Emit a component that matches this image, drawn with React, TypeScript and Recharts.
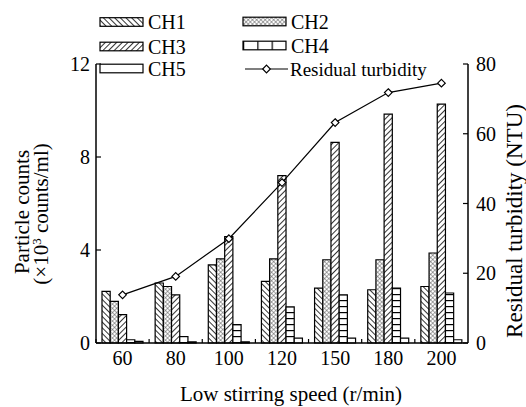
import { ComposedChart, Bar, Line, XAxis, YAxis } from "recharts";

const speeds = ["60", "80", "100", "120", "150", "180", "200"];
const ch1 = [2.22, 2.58, 3.36, 2.65, 2.36, 2.29, 2.43];
const ch2 = [1.79, 2.43, 3.62, 3.62, 3.58, 3.58, 3.87];
const ch3 = [1.22, 2.07, 4.58, 7.2, 8.63, 9.84, 10.27];
const ch4 = [0.14, 0.28, 0.79, 1.55, 2.07, 2.36, 2.15];
const ch5 = [0.07, 0.05, 0.05, 0.21, 0.21, 0.21, 0.14];
const turbidity = [13.8, 19.1, 29.9, 46.0, 63.2, 71.8, 74.5];
const leftTicks = [0, 4, 8, 12];
const rightTicks = [0, 20, 40, 60, 80];

const data = speeds.map((s, i) => ({
  speed: s,
  ch1: ch1[i],
  ch2: ch2[i],
  ch3: ch3[i],
  ch4: ch4[i],
  ch5: ch5[i],
  turb: turbidity[i],
}));

const FONT = "'Liberation Serif', 'Times New Roman', serif";
const FS = 20;

const fills: Record<string, string> = {
  ch1: "url(#pBack)",
  ch2: "url(#pCross)",
  ch3: "url(#pFwd)",
  ch4: "url(#pBrick)",
  ch5: "#fff",
};
const legendFills: Record<string, string> = {
  ch1: "url(#lBack)",
  ch2: "url(#lCross)",
  ch3: "url(#lFwd)",
  ch4: "url(#lBrickV)",
  ch5: "#fff",
};

// diamond marker for the turbidity line
const Diamond = (props: any) => {
  const { cx, cy } = props;
  if (cx == null || cy == null) return null;
  const r = 3.8;
  return (
    <path
      d={`M${cx},${cy - r}L${cx + r},${cy}L${cx},${cy + r}L${cx - r},${cy}Z`}
      fill="#fff"
      stroke="#000"
      strokeWidth={1.2}
    />
  );
};

// labels at category centres, small inward ticks at the category boundaries
const XTick = (props: any) => {
  const { x, y, payload } = props;
  const half = 26.6;
  const axisY = y - 8;
  return (
    <g>
      <line x1={x - half} x2={x - half} y1={axisY} y2={axisY - 4} stroke="#000" strokeWidth={1.2} />
      <text x={x} y={y} dy="0.71em" textAnchor="middle" fontFamily={FONT} fontSize={FS} fill="#000">
        {payload.value}
      </text>
    </g>
  );
};

const Patterns = ({ prefix }: { prefix: string }) => (
  <defs>
    <pattern id={prefix + "Back"} width="4" height="4" patternUnits="userSpaceOnUse" patternTransform="rotate(-45)">
      <rect width="4" height="4" fill="#fff" />
      <line x1="0" y1="0" x2="0" y2="4" stroke="#000" strokeWidth="1.6" />
    </pattern>
    <pattern id={prefix + "Fwd"} width="4" height="4" patternUnits="userSpaceOnUse" patternTransform="rotate(45)">
      <rect width="4" height="4" fill="#fff" />
      <line x1="0" y1="0" x2="0" y2="4" stroke="#000" strokeWidth="1.6" />
    </pattern>
    <pattern id={prefix + "Cross"} width="3" height="3" patternUnits="userSpaceOnUse" patternTransform="rotate(45)">
      <rect width="3" height="3" fill="#fff" />
      <line x1="0" y1="0" x2="0" y2="3" stroke="#555" strokeWidth="1" />
      <line x1="0" y1="0" x2="3" y2="0" stroke="#555" strokeWidth="1" />
    </pattern>
    <pattern id={prefix + "Brick"} width="8" height="6" patternUnits="userSpaceOnUse">
      <rect width="8" height="6" fill="#fff" />
      <line x1="0" y1="0.5" x2="8" y2="0.5" stroke="#000" strokeWidth="1.4" />
    </pattern>
    <pattern id={prefix + "BrickV"} width="14.3" height="8" patternUnits="userSpaceOnUse" x="100">
      <rect width="14.3" height="8" fill="#fff" />
      <line x1="0.5" y1="0" x2="0.5" y2="8" stroke="#000" strokeWidth="1.4" />
    </pattern>
  </defs>
);

const LegendBox = () => {
  const rows = [
    { key: "ch1", label: "CH1", x: 100, y: 22 },
    { key: "ch2", label: "CH2", x: 243, y: 21.5 },
    { key: "ch3", label: "CH3", x: 100, y: 46.5 },
    { key: "ch4", label: "CH4", x: 243, y: 45.5 },
    { key: "ch5", label: "CH5", x: 100, y: 68.5 },
  ];
  return (
    <svg width={526} height={80} style={{ position: "absolute", left: 0, top: 0, overflow: "visible" }}>
      <Patterns prefix="l" />
      {rows.map((r) => (
        <g key={r.key}>
          <rect x={r.x} y={r.y - 4.3} width={43} height={8.6} fill={legendFills[r.key]} stroke="#000" strokeWidth={1.2} />
          <text x={r.x + 48} y={r.y + 7} fontFamily={FONT} fontSize={FS} fill="#000">
            {r.label}
          </text>
        </g>
      ))}
      <line x1={245} x2={288} y1={69} y2={69} stroke="#000" strokeWidth={1.2} />
      <Diamond cx={266.5} cy={69} />
      <text x={290} y={76} fontFamily={FONT} fontSize={19} fill="#000">
        Residual turbidity
      </text>
    </svg>
  );
};

export default function App() {
  return (
    <div style={{ width: 526, height: 407, position: "relative", background: "#fff" }}>
      <style>{"body{margin:0}"}</style>
      <ComposedChart
        width={526}
        height={407}
        data={data}
        margin={{ top: 64, right: 0, left: 0, bottom: 0 }}
        barGap={0}
        barCategoryGap={6}
      >
        <Patterns prefix="p" />
        <XAxis
          dataKey="speed"
          height={64}
          axisLine={{ stroke: "#000", strokeWidth: 1.5 }}
          tickLine={false}
          tickSize={-5}
          tickMargin={13}
          tick={<XTick />}
          interval={0}
          label={() => (
            <text x={291} y={401} textAnchor="middle" fontFamily={FONT} fontSize={21} fill="#000">
              Low stirring speed (r/min)
            </text>
          )}
        />
        <YAxis
          yAxisId="left"
          width={96}
          domain={[0, 12]}
          ticks={leftTicks}
          interval={0}
          axisLine={{ stroke: "#000", strokeWidth: 1.5 }}
          tickLine={{ stroke: "#000", strokeWidth: 1.2 }}
          tickSize={-5}
          tickMargin={11}
          tick={{ fontFamily: FONT, fontSize: FS, fill: "#000" }}
          label={() => (
            <g>
              <text
                transform="translate(29,212) rotate(-90)"
                textAnchor="middle"
                fontFamily={FONT}
                fontSize={21}
                fill="#000"
              >
                Particle counts
              </text>
              <text
                transform="translate(48,214) rotate(-90)"
                textAnchor="middle"
                fontFamily={FONT}
                fontSize={21}
                fill="#000"
              >
                (×10
                <tspan dy={-7} fontSize={13}>
                  3
                </tspan>
                <tspan dy={7}> counts/ml)</tspan>
              </text>
            </g>
          )}
        />
        <YAxis
          yAxisId="right"
          orientation="right"
          width={58}
          domain={[0, 80]}
          ticks={rightTicks}
          interval={0}
          axisLine={{ stroke: "#000", strokeWidth: 1.5 }}
          tickLine={{ stroke: "#000", strokeWidth: 1.2 }}
          tickSize={-5}
          tickMargin={13}
          tick={{ fontFamily: FONT, fontSize: FS, fill: "#000" }}
          label={() => (
            <text
              transform="translate(522,221) rotate(-90)"
              textAnchor="middle"
              fontFamily={FONT}
              fontSize={23}
              fill="#000"
            >
              Residual turbidity (NTU)
            </text>
          )}
        />
        {(["ch1", "ch2", "ch3", "ch4", "ch5"] as const).map((k) => (
          <Bar
            key={k}
            yAxisId="left"
            dataKey={k}
            barSize={8.2}
            fill={fills[k]}
            stroke="#000"
            strokeWidth={1.2}
            isAnimationActive={false}
          />
        ))}
        <Line
          yAxisId="right"
          dataKey="turb"
          stroke="#000"
          strokeWidth={1.2}
          dot={<Diamond />}
          activeDot={false}
          isAnimationActive={false}
        />
      </ComposedChart>
      <LegendBox />
    </div>
  );
}
